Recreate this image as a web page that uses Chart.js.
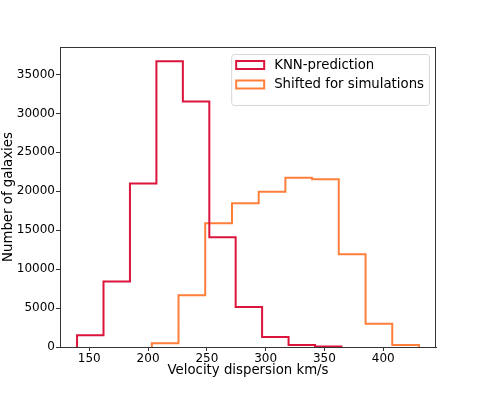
<!DOCTYPE html>
<html>
<head>
<meta charset="utf-8">
<script src="https://cdn.jsdelivr.net/npm/chart.js@4"></script>
<style>
  html, body { margin: 0; padding: 0; background: #fff; }
  #wrap { width: 485px; height: 397px; }
</style>
</head>
<body>
<div id="wrap"><canvas id="myChart" width="485" height="397"></canvas></div>
<script>
// bin edges (km/s) and counts
const knnEdges = [139.6, 162.1, 184.6, 207.1, 229.6, 252.1, 274.5, 297.0, 319.5, 342.0, 364.5];
const knnCounts = [1500, 8400, 21000, 36700, 31550, 14100, 5150, 1300, 250, 80];

const simEdges = [203.2, 225.9, 248.6, 271.4, 294.1, 316.8, 339.5, 362.2, 385.0, 407.7, 430.4];
const simCounts = [480, 6650, 15900, 18450, 19950, 21750, 21550, 11900, 3000, 250];

const seriesLabels = ["KNN-prediction", "Shifted for simulations"];
const seriesColors = ["#dc143c", "#ff7f3a"];

const xTicks = [150, 200, 250, 300, 350, 400];
const yTicks = [0, 5000, 10000, 15000, 20000, 25000, 30000, 35000];

const fontFamily = "'DejaVu Sans', sans-serif";

// outline of a step histogram
function stepOutline(edges, counts) {
  let pts = [{ x: edges[0], y: 0 }];
  for (let i = 0; i < counts.length; i++) {
    pts.push({ x: edges[i], y: counts[i] });
    pts.push({ x: edges[i + 1], y: counts[i] });
  }
  pts.push({ x: edges[edges.length - 1], y: 0 });
  return pts;
}

// frame on all four sides
const framePlugin = {
  id: "frame",
  afterDraw(chart) {
    const { ctx, chartArea: a } = chart;
    ctx.save();
    ctx.strokeStyle = "#333";
    ctx.lineWidth = 1;
    ctx.strokeRect(Math.round(a.left) + 0.5, Math.round(a.top) + 0.5,
      Math.round(a.right - a.left) - 1, Math.round(a.bottom - a.top));
    ctx.restore();
  }
};

// legend drawn inside the axes, top right
const legendPlugin = {
  id: "innerLegend",
  afterDraw(chart) {
    const { ctx, chartArea: a } = chart;
    const sets = chart.data.datasets;
    ctx.save();
    ctx.font = "13.3px " + fontFamily;
    let textW = 0;
    sets.forEach(d => { textW = Math.max(textW, ctx.measureText(d.label).width); });
    const rowH = 19.5;
    const boxW = 4 + 28 + 10 + textW + 6;
    const boxH = 8 + rowH * sets.length + 4;
    const right = a.right - 7;
    const top = a.top + 7;
    const left = right - boxW;

    ctx.fillStyle = "rgba(255,255,255,0.8)";
    ctx.strokeStyle = "#d6d6d6";
    ctx.lineWidth = 1;
    ctx.beginPath();
    ctx.roundRect(left + 0.5, top + 0.5, boxW, boxH, 3);
    ctx.fill();
    ctx.stroke();

    sets.forEach((d, i) => {
      const cy = top + 11 + i * rowH;
      ctx.strokeStyle = d.borderColor;
      ctx.lineWidth = 2;
      ctx.strokeRect(left + 5, cy - 4, 28, 8);
      ctx.fillStyle = "#000";
      ctx.textBaseline = "middle";
      ctx.fillText(d.label, left + 43, cy + 0.5);
    });
    ctx.restore();
  }
};

new Chart(document.getElementById("myChart"), {
  type: "line",
  data: {
    datasets: [
      {
        label: seriesLabels[0],
        data: stepOutline(knnEdges, knnCounts),
        borderColor: seriesColors[0],
        borderWidth: 2,
        pointRadius: 0,
        fill: false,
        tension: 0
      },
      {
        label: seriesLabels[1],
        data: stepOutline(simEdges, simCounts),
        borderColor: seriesColors[1],
        borderWidth: 2,
        pointRadius: 0,
        fill: false,
        tension: 0
      }
    ]
  },
  options: {
    responsive: false,
    animation: false,
    layout: { padding: { left: 0, top: 47, right: 49, bottom: 0 } },
    plugins: {
      legend: { display: false },
      tooltip: { enabled: false }
    },
    scales: {
      x: {
        type: "linear",
        min: 125.1,
        max: 444.9,
        afterFit: s => { s.height = 50; },
        afterBuildTicks: s => { s.ticks = xTicks.map(v => ({ value: v })); },
        grid: { drawOnChartArea: false, tickLength: 4, tickColor: "#333" },
        border: { color: "#333", width: 1 },
        ticks: {
          color: "#000", padding: 1, maxRotation: 0,
          font: { family: fontFamily, size: 12 },
          callback: v => String(v)
        },
        title: {
          display: true,
          text: "Velocity dispersion km/s",
          color: "#000",
          font: { family: fontFamily, size: 13.3 },
          padding: { top: 0, bottom: 18 }
        }
      },
      y: {
        min: 0,
        max: 38535,
        afterFit: s => { s.width = 60; },
        afterBuildTicks: s => { s.ticks = yTicks.map(v => ({ value: v })); },
        grid: { drawOnChartArea: false, tickLength: 4, tickColor: "#333" },
        border: { color: "#333", width: 1 },
        ticks: {
          color: "#000", padding: 1,
          font: { family: fontFamily, size: 12 },
          callback: v => String(v)
        },
        title: {
          display: true,
          text: "Number of galaxies",
          color: "#000",
          font: { family: fontFamily, size: 13.3 },
          padding: { top: 1, bottom: 0 }
        }
      }
    }
  },
  plugins: [framePlugin, legendPlugin]
});
</script>
</body>
</html>
